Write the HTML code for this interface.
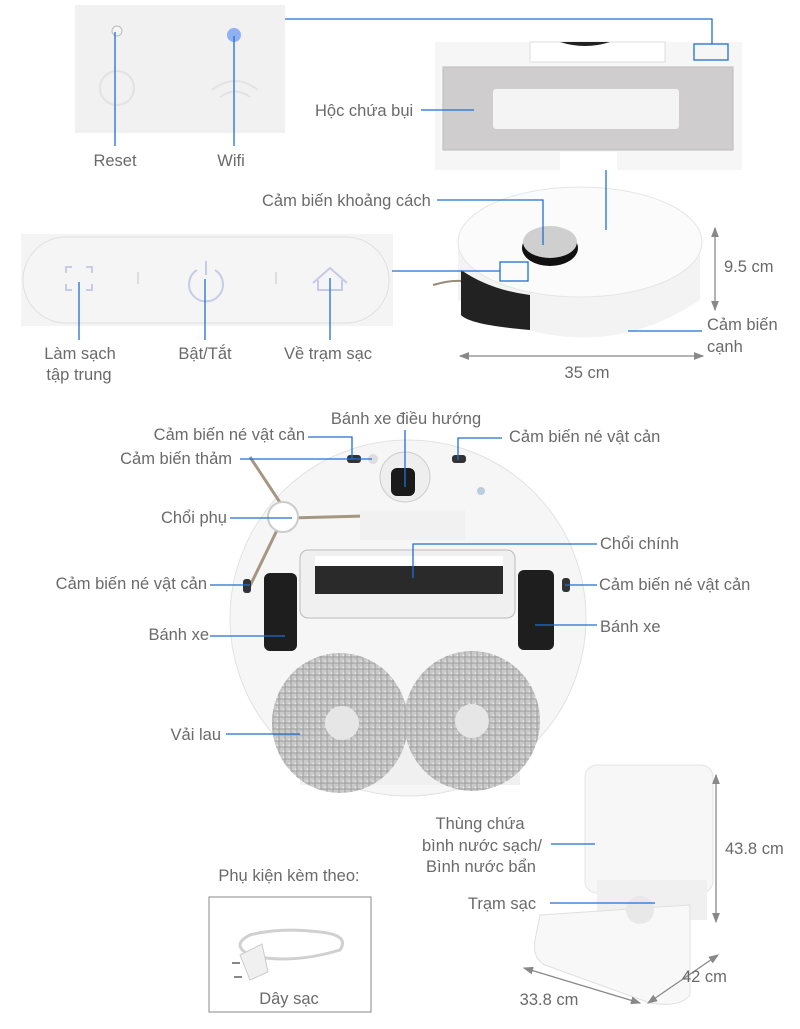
<!DOCTYPE html>
<html><head><meta charset="utf-8"><style>
html,body{margin:0;padding:0;background:#fff;width:800px;height:1029px;overflow:hidden}
text{font-family:"Liberation Sans",sans-serif;font-size:16.5px;fill:#6a6a6a}
</style></head><body>
<svg width="800" height="1029" viewBox="0 0 800 1029" xmlns="http://www.w3.org/2000/svg">
<defs>
<pattern id="mop" width="6" height="6" patternUnits="userSpaceOnUse">
<rect width="6" height="6" fill="#c9c9c9"/><path d="M0 3h6M3 0v6" stroke="#9e9e9e" stroke-width="1"/><circle cx="1.5" cy="1.5" r="1" fill="#e8e8e8"/></pattern>
<marker id="ar" markerWidth="8" markerHeight="8" refX="7" refY="4" orient="auto-start-reverse"><path d="M0,1 L8,4 L0,7z" fill="#888"/></marker>
</defs>
<g fill="none" stroke="#1f6fd6" stroke-width="1.3">
</g>
<!-- top-left panel -->
<rect x="75" y="5" width="210" height="128" fill="#f1f1f1"/>
<circle cx="117" cy="31" r="5" fill="#f4f4f4" stroke="#bbb"/>
<circle cx="234" cy="35" r="7" fill="#8fb0f3"/>
<circle cx="117" cy="88" r="17" fill="none" stroke="#e2e2e2" stroke-width="2"/>
<path d="M212 90 Q235 72 258 90 M220 97 Q235 86 250 97" fill="none" stroke="#e2e2e2" stroke-width="2"/>
<!-- dust box -->
<rect x="435" y="42" width="307" height="128" fill="#f6f6f6"/>
<rect x="530" y="42" width="135" height="20" fill="#fff" stroke="#ddd"/>
<path d="M560 42 q25 8 50 0" fill="#222"/>
<rect x="443" y="67" width="290" height="83" fill="#cfcdcd" stroke="#bbb"/>
<rect x="493" y="89" width="186" height="40" rx="3" fill="#f4f4f4"/>
<rect x="560" y="152" width="57" height="18" fill="#fff"/>
<!-- top robot -->
<path d="M458 240 L458 300 Q588 375 700 300 L700 240 Z" fill="#f3f3f3"/>
<ellipse cx="580" cy="242" rx="122" ry="55" fill="#fbfbfb" stroke="#e6e6e6"/>
<path d="M461 270 L461 315 Q470 325 530 330 L530 295 Q490 290 461 270Z" fill="#222"/>
<ellipse cx="550" cy="248" rx="28" ry="18" fill="#111"/>
<ellipse cx="550" cy="242" rx="27" ry="16" fill="#cfcfcf"/>
<path d="M433 285 Q450 280 461 281" stroke="#9a8a78" stroke-width="2" fill="none"/>
<!-- control panel -->
<rect x="21" y="234" width="372" height="92" fill="#f4f4f4"/>
<rect x="23" y="237" width="366" height="86" rx="43" fill="#f5f5f5" stroke="#e0e0e0"/>
<g stroke="#c7cbe8" stroke-width="2" fill="none">
<path d="M66 273v-6h6M86 267h6v6M92 284v6h-6M72 290h-6v-6"/>
<path d="M197 270 a17 17 0 1 0 18 0 M206 261v14"/>
<path d="M313 283 L330 268 L347 283 M318 280v10h24v-10"/>
</g>
<path d="M138 272v12M276 272v12" stroke="#ddd" stroke-width="2"/>
<!-- bottom robot -->
<circle cx="408" cy="618" r="178" fill="#f6f6f6" stroke="#e2e2e2"/>
<circle cx="405" cy="477" r="25" fill="#eee" stroke="#ccc"/>
<rect x="391" y="468" width="24" height="28" rx="6" fill="#1a1a1a"/>
<circle cx="373" cy="459" r="5" fill="#ddd"/>
<rect x="347" y="455" width="14" height="8" rx="3" fill="#333"/>
<rect x="452" y="455" width="14" height="8" rx="3" fill="#333"/>
<circle cx="481" cy="491" r="4" fill="#bcd"/>
<path d="M250 457 L285 510 M290 518 L365 516 M280 524 L248 590" stroke="#a49882" stroke-width="3"/>
<circle cx="283" cy="517" r="15" fill="#fff" stroke="#ccc" stroke-width="2"/>
<rect x="360" y="510" width="105" height="30" fill="#f1f1f1"/>
<rect x="300" y="550" width="215" height="68" rx="8" fill="#f0f0f0" stroke="#bbb"/>
<rect x="315" y="556" width="188" height="38" fill="#2a2a2a"/>
<path d="M315 556h188v10h-188z" fill="#fff"/>
<rect x="264" y="573" width="33" height="78" rx="6" fill="#1e1e1e"/>
<rect x="518" y="570" width="36" height="80" rx="6" fill="#1e1e1e"/>
<rect x="243" y="579" width="8" height="14" rx="3" fill="#333"/>
<rect x="562" y="578" width="8" height="14" rx="3" fill="#333"/>
<rect x="300" y="700" width="220" height="85" fill="#f0f0f0"/>
<ellipse cx="340" cy="723" rx="68" ry="70" fill="url(#mop)"/>
<ellipse cx="472" cy="721" rx="68" ry="70" fill="url(#mop)"/>
<circle cx="342" cy="723" r="17" fill="#e6e6e6"/>
<circle cx="472" cy="721" r="17" fill="#e6e6e6"/>
<!-- station -->
<rect x="585" y="765" width="128" height="128" rx="12" fill="#f7f7f7" stroke="#e4e4e4"/>
<rect x="597" y="880" width="110" height="40" fill="#f0f0f0"/>
<path d="M540 915 L690 905 L690 995 Q680 1008 650 1003 L545 965 Q532 958 535 940Z" fill="#f8f8f8" stroke="#e0e0e0"/>
<circle cx="640" cy="910" r="14" fill="#e8e8e8"/>
<!-- accessory -->
<rect x="209" y="897" width="162" height="115" fill="#fff" stroke="#888"/>
<path d="M250 935 q-20 10 0 20 q40 10 90 -5 q10 -15 -20 -18 q-40 -5 -70 3z" fill="none" stroke="#d0d0d0" stroke-width="3"/>
<path d="M240 955 L262 944 L268 972 L250 980z" fill="#f0f0f0" stroke="#ccc"/>
<path d="M232 963h8M234 977h8" stroke="#888" stroke-width="2"/>
<!-- blue lines -->
<g fill="none" stroke="#1f6fd6" stroke-width="1.3">
<path d="M115 32V146M234 36V146"/>
<path d="M285 19H712V44"/><rect x="694" y="44" width="34" height="16"/>
<path d="M421 110H474"/>
<path d="M606 170V230"/>
<path d="M437 200H543V245"/>
<rect x="500" y="262" width="28" height="19"/>
<path d="M392 271H500"/>
<path d="M79 282V340M205 279V340M330 278V340"/>
<path d="M628 331H702"/>
<path d="M405 430V487M308 437H352V459M240 459H372M458 460V438H502"/>
<path d="M230 518H292M413 578V544H597M210 585H250M565 585H597M210 636H285M535 625H597M226 734H300"/>
<path d="M551 844H595M550 903H655"/>
</g>
<!-- dimension lines -->
<g stroke="#888" stroke-width="1.3" fill="none">
<path d="M715 228V310" marker-start="url(#ar)" marker-end="url(#ar)"/>
<path d="M460 356H703" marker-start="url(#ar)" marker-end="url(#ar)"/>
<path d="M716 775V922" marker-start="url(#ar)" marker-end="url(#ar)"/>
<path d="M524 968L640 1003" marker-start="url(#ar)" marker-end="url(#ar)"/>
<path d="M718 955L648 1003" marker-start="url(#ar)" marker-end="url(#ar)"/>
</g>
<!-- labels -->
<text x="115" y="166" text-anchor="middle">Reset</text>
<text x="231" y="166" text-anchor="middle">Wifi</text>
<text x="315" y="116">Hộc chứa bụi</text>
<text x="262" y="206">Cảm biến khoảng cách</text>
<text x="724" y="272">9.5 cm</text>
<text x="707" y="330">Cảm biến</text>
<text x="707" y="352">cạnh</text>
<text x="587" y="378" text-anchor="middle">35 cm</text>
<text x="80" y="359" text-anchor="middle">Làm sạch</text>
<text x="79" y="380" text-anchor="middle">tập trung</text>
<text x="205" y="359" text-anchor="middle">Bật/Tắt</text>
<text x="328" y="359" text-anchor="middle">Về trạm sạc</text>
<text x="406" y="424" text-anchor="middle">Bánh xe điều hướng</text>
<text x="305" y="440" text-anchor="end">Cảm biến né vật cản</text>
<text x="232" y="464" text-anchor="end">Cảm biến thảm</text>
<text x="509" y="442">Cảm biến né vật cản</text>
<text x="227" y="523" text-anchor="end">Chổi phụ</text>
<text x="600" y="549">Chổi chính</text>
<text x="207" y="589" text-anchor="end">Cảm biến né vật cản</text>
<text x="599" y="590">Cảm biến né vật cản</text>
<text x="209" y="640" text-anchor="end">Bánh xe</text>
<text x="600" y="632">Bánh xe</text>
<text x="221" y="740" text-anchor="end">Vải lau</text>
<text x="480" y="829" text-anchor="middle">Thùng chứa</text>
<text x="482" y="851" text-anchor="middle">bình nước sạch/</text>
<text x="481" y="872" text-anchor="middle">Bình nước bẩn</text>
<text x="502" y="909" text-anchor="middle">Trạm sạc</text>
<text x="725" y="854">43.8 cm</text>
<text x="289" y="881" text-anchor="middle">Phụ kiện kèm theo:</text>
<text x="289" y="1004" text-anchor="middle">Dây sạc</text>
<text x="682" y="982">42 cm</text>
<text x="549" y="1005" text-anchor="middle">33.8 cm</text>
</svg>
</body></html>
